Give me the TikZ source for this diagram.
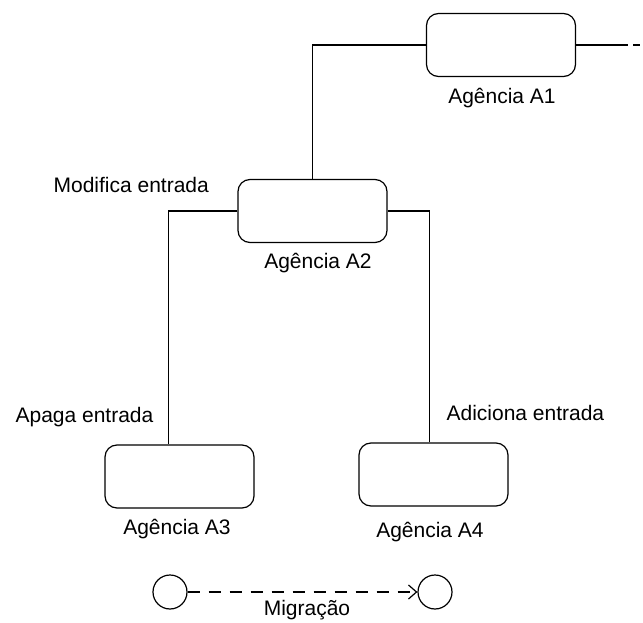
\documentclass[tikz,border=0pt]{standalone}
\usepackage{fontspec}
\setmainfont{Liberation Sans}
\usetikzlibrary{arrows.meta}
\tikzset{
	agencia/.style={draw, rounded corners=12pt, minimum width=149pt, minimum height=63pt, inner sep=0pt},
	lugar/.style={draw, circle, minimum size=34pt, inner sep=0pt},
	rotulo/.style={inner sep=0pt, font=\fontsize{21}{25}\selectfont}
}

\begin{document}
\begin{tikzpicture}[x=1pt, y=-1pt, line width=1.2pt]
		%%%%% START %%%%%
		\useasboundingbox (0, 0) rectangle (643, 623);
		
		% agencias
		\node[agencia] (a1) at (501, 45) {};
		\node[agencia] (a2) at (312.5, 211) {};
		\node[agencia] (a3) at (179.5, 476.5) {};
		\node[agencia] (a4) at (433.5, 474.5) {};
		
		\node[rotulo] (r1) at (502, 98) {Agência A1};
		\node[rotulo] (r2) at (318, 263) {Agência A2};
		\node[rotulo] (r3) at (177, 529) {Agência A3};
		\node[rotulo] (r4) at (430, 532) {Agência A4};
		
		% ligacoes
		\coordinate (fora) at (628, 45);
		\draw (a1.east) -- (fora);
		\draw ([xshift=5pt]fora) -- ++(7, 0);
		\draw (a1.west) -| (a2.north);
		\draw (a2.west) -| ([xshift=64pt]a3.north west);
		\draw (a2.east) -| ([xshift=-4pt]a4.north);
		
		\node[rotulo, anchor=west] (modifica) at (53, 185) {Modifica entrada};
		\node[rotulo, anchor=west] (apaga) at (15, 417) {Apaga entrada};
		\node[rotulo, anchor=west] (adiciona) at (446, 413) {Adiciona entrada};
		
		% legenda
		\node[lugar] (orig) at (170, 592) {};
		\node[lugar] (dest) at (435, 592) {};
		\draw[dash pattern=on 12pt off 9pt, -{Straight Barb[length=8pt, width=14pt]}] (orig) -- (dest);
		\node[rotulo] (migracao) at (307, 610) {Migração};
		
		%%%%% END %%%%%
	\end{tikzpicture}
\end{document}
